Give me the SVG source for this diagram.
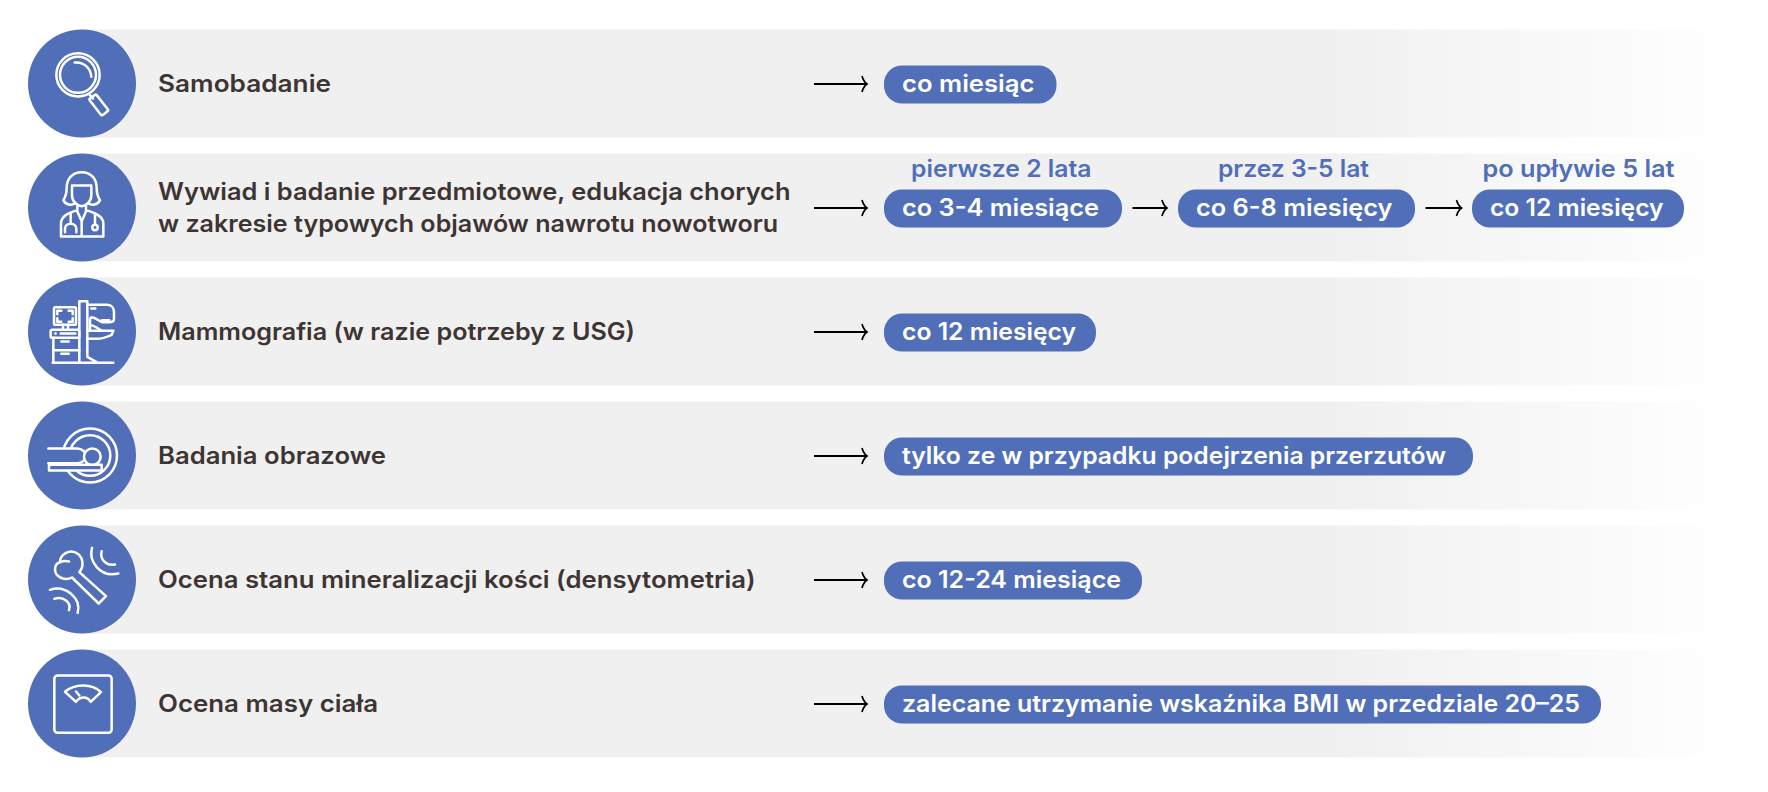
<svg xmlns="http://www.w3.org/2000/svg" width="1768" height="792" viewBox="0 0 1768 792">
<style>
text{font-family:"Inter","Liberation Sans",sans-serif;font-weight:600;font-size:24px}
.lab{fill:#3d3532}
.pilltxt{fill:#fff}
.head{fill:#516fb9}
.pill{fill:#516fb9}
.disc{fill:#516fb9}
.band{fill:url(#fade)}
.ico{fill:none;stroke:#fff;stroke-width:7.5;stroke-linecap:round;stroke-linejoin:round}
.mask{fill:#516fb9;stroke:#fff;stroke-width:7.5;stroke-linejoin:round;stroke-linecap:round}
.arr{stroke:#000;stroke-width:2;fill:none;marker-end:url(#tip)}
</style>
<defs>
<linearGradient id="fade" gradientUnits="userSpaceOnUse" x1="80" y1="0" x2="1730" y2="0">
<stop offset="0" stop-color="#f0f0f0"/><stop offset="0.76" stop-color="#f0f0f0"/><stop offset="1" stop-color="#fff"/>
</linearGradient>
<marker id="tip" markerUnits="userSpaceOnUse" markerWidth="10" markerHeight="20" refX="8" refY="10" orient="auto">
<path d="M3 2 Q4.500 7.500 8 10 Q4.500 12.500 3 18" fill="none" stroke="#000" stroke-width="1.700"/>
</marker>
</defs>

<g transform="translate(0 -.5)">
<g id="node-samobadanie">
<rect class="band" x="80" y="30" width="1650" height="108"/>
<circle class="disc" cx="82" cy="84" r="54"/>
<g transform="scale(.33333)" class="ico">
<circle cx="234" cy="226" r="65"/><circle cx="234" cy="226" r="54"/>
<path d="M224 189C250 186 272 205 274 232"/>
<path d="M267 284L279 297"/>
<rect x="-13" y="-32" width="26" height="62" rx="4" transform="translate(297 317) rotate(-38)"/>
</g>
<text class="lab" x="158" y="92" textLength="173" lengthAdjust="spacingAndGlyphs">Samobadanie</text>
<rect class="pill" x="884" y="66" width="172.500" height="38" rx="18"/>
<text class="pilltxt" x="902" y="92" textLength="132.500" lengthAdjust="spacingAndGlyphs">co miesiąc</text>
</g>

<g id="node-wywiad">
<rect class="band" x="80" y="154" width="1650" height="108"/>
<circle class="disc" cx="82" cy="208" r="54"/>
<g transform="scale(.33333)" class="ico">
<path d="M245 518C215 518 200 540 200 565C200 585 195 595 190 602C198 618 215 618 225 612M245 518C275 518 290 540 290 565C290 585 295 595 300 602C292 618 275 618 265 612"/>
<path d="M216 558H274V588C274 605 258 620 245 620C232 620 216 605 216 588Z"/>
<path d="M232 618V636L245 665L258 636V618M232 632C205 640 183 650 183 672V711H310V672C310 650 285 640 258 632M245 665V711"/>
<path d="M212 642V672M195 698V688C195 668 229 668 229 688V698M285 642V675"/>
<circle cx="285" cy="684" r="8"/>
</g>
<text class="lab" x="158" y="200" textLength="632.500" lengthAdjust="spacingAndGlyphs">Wywiad i badanie przedmiotowe, edukacja chorych</text>
<text class="lab" x="158" y="232" textLength="620" lengthAdjust="spacingAndGlyphs">w zakresie typowych objawów nawrotu nowotworu</text>
<text class="head" x="911" y="177" textLength="180.500" lengthAdjust="spacingAndGlyphs">pierwsze 2 lata</text>
<text class="head" x="1218" y="177" textLength="151" lengthAdjust="spacingAndGlyphs">przez 3-5 lat</text>
<text class="head" x="1482.500" y="177" textLength="192" lengthAdjust="spacingAndGlyphs">po upływie 5 lat</text>
<rect class="pill" x="884" y="190" width="238" height="38" rx="18"/>
<text class="pilltxt" x="902" y="216" textLength="197" lengthAdjust="spacingAndGlyphs">co 3-4 miesiące</text>
<rect class="pill" x="1178" y="190" width="237" height="38" rx="18"/>
<text class="pilltxt" x="1196" y="216" textLength="196.500" lengthAdjust="spacingAndGlyphs">co 6-8 miesięcy</text>
<rect class="pill" x="1472" y="190" width="212" height="38" rx="18"/>
<text class="pilltxt" x="1490" y="216" textLength="173.500" lengthAdjust="spacingAndGlyphs">co 12 miesięcy</text>
</g>

<g id="node-mammografia">
<rect class="band" x="80" y="278" width="1650" height="108"/>
<circle class="disc" cx="82" cy="332" r="54"/>
<g transform="translate(0 270) scale(.33333)" class="ico">
<rect x="162" y="113" width="66" height="53" rx="4"/>
<path d="M172 134V124H184M206 124H218V134M172 146V157H184M206 157H218V146"/>
<path d="M189 166V180M204 166V180"/>
<rect x="152" y="181" width="86" height="24" rx="5"/>
<path d="M182 192H226M166 192H167"/>
<path d="M160 205V280M160 242H238M184 216H206M184 253H206"/>
<path d="M238 280V95H262V262L290 278M158 280H340"/>
<path d="M262 106H322C335 106 342 116 342 128V148C342 155 338 158 330 158H306L284 146C278 143 270 142 270 150V182"/>
<path d="M274 117H286M306 152H328"/>
<path d="M262 184H340L335 196C320 203 305 208 290 208H262"/>
<path d="M272 166C285 170 295 176 305 184"/>
</g>
<text class="lab" x="158" y="340" textLength="477" lengthAdjust="spacingAndGlyphs">Mammografia (w razie potrzeby z USG)</text>
<rect class="pill" x="884" y="314" width="212" height="38" rx="18"/>
<text class="pilltxt" x="902" y="340" textLength="174" lengthAdjust="spacingAndGlyphs">co 12 miesięcy</text>
</g>

<g id="node-badania">
<rect class="band" x="80" y="402" width="1650" height="108"/>
<circle class="disc" cx="82" cy="456" r="54"/>
<g transform="translate(0 270) scale(.33333)" class="ico">
<circle cx="270" cy="558" r="81"/><circle cx="270" cy="558" r="61"/>
<path class="mask" d="M145 537H232C246 537 258 548 258 559C258 570 246 581 232 581H145" stroke-linecap="butt"/>
<circle class="mask" cx="277" cy="562" r="25"/>
<rect class="mask" x="147" y="586" width="158" height="17"/>
</g>
<text class="lab" x="158" y="464" textLength="228" lengthAdjust="spacingAndGlyphs">Badania obrazowe</text>
<rect class="pill" x="884" y="438" width="589" height="38" rx="18"/>
<text class="pilltxt" x="902" y="464" textLength="544" lengthAdjust="spacingAndGlyphs">tylko ze w przypadku podejrzenia przerzutów</text>
</g>

<g id="node-ocena-kosci">
<rect class="band" x="80" y="526" width="1650" height="108"/>
<circle class="disc" cx="82" cy="580" r="54"/>
<g transform="translate(0 520) scale(.33333)" class="ico">
<path d="M238 158L318 230L296 252L216 174C195 186 165 172 165 150C165 138 172 130 180 128C180 105 210 85 235 104C250 118 252 142 238 158Z"/>
<path d="M180 128C190 124 198 124 207 126"/>
<path d="M276 85C265 125 300 175 355 162M305 95C298 120 320 140 345 135"/>
<path d="M150 211C195 195 245 235 233 280M163 238C190 228 215 250 207 272"/>
</g>
<text class="lab" x="158" y="588" textLength="597.500" lengthAdjust="spacingAndGlyphs">Ocena stanu mineralizacji kości (densytometria)</text>
<rect class="pill" x="884" y="562" width="258" height="38" rx="18"/>
<text class="pilltxt" x="902" y="588" textLength="219" lengthAdjust="spacingAndGlyphs">co 12-24 miesiące</text>
</g>

<g id="node-ocena-masy">
<rect class="band" x="80" y="650" width="1650" height="108"/>
<circle class="disc" cx="82" cy="704" r="54"/>
<g transform="translate(0 520) scale(.33333)" class="ico">
<rect x="163" y="468" width="172" height="172" rx="10"/>
<path d="M195 517C225 492 275 492 303 518L272 547C262 530 240 530 228 547Z"/>
<path d="M228 516L238 528"/>
</g>
<text class="lab" x="158" y="712" textLength="220" lengthAdjust="spacingAndGlyphs">Ocena masy ciała</text>
<rect class="pill" x="884" y="686" width="717" height="38" rx="18"/>
<text class="pilltxt" x="902" y="712" textLength="678" lengthAdjust="spacingAndGlyphs">zalecane utrzymanie wskaźnika BMI w przedziale 20–25</text>
</g>

<g id="connectors">
<path class="arr" d="M814 84.500H867"/>
<path class="arr" d="M814 208.500H867"/>
<path class="arr" d="M1132.500 208.500H1167"/>
<path class="arr" d="M1425.500 208.500H1461.500"/>
<path class="arr" d="M814 332.500H867"/>
<path class="arr" d="M814 456.500H867"/>
<path class="arr" d="M814 580.500H867"/>
<path class="arr" d="M814 704.500H867"/>
</g>
</g>
</svg>
